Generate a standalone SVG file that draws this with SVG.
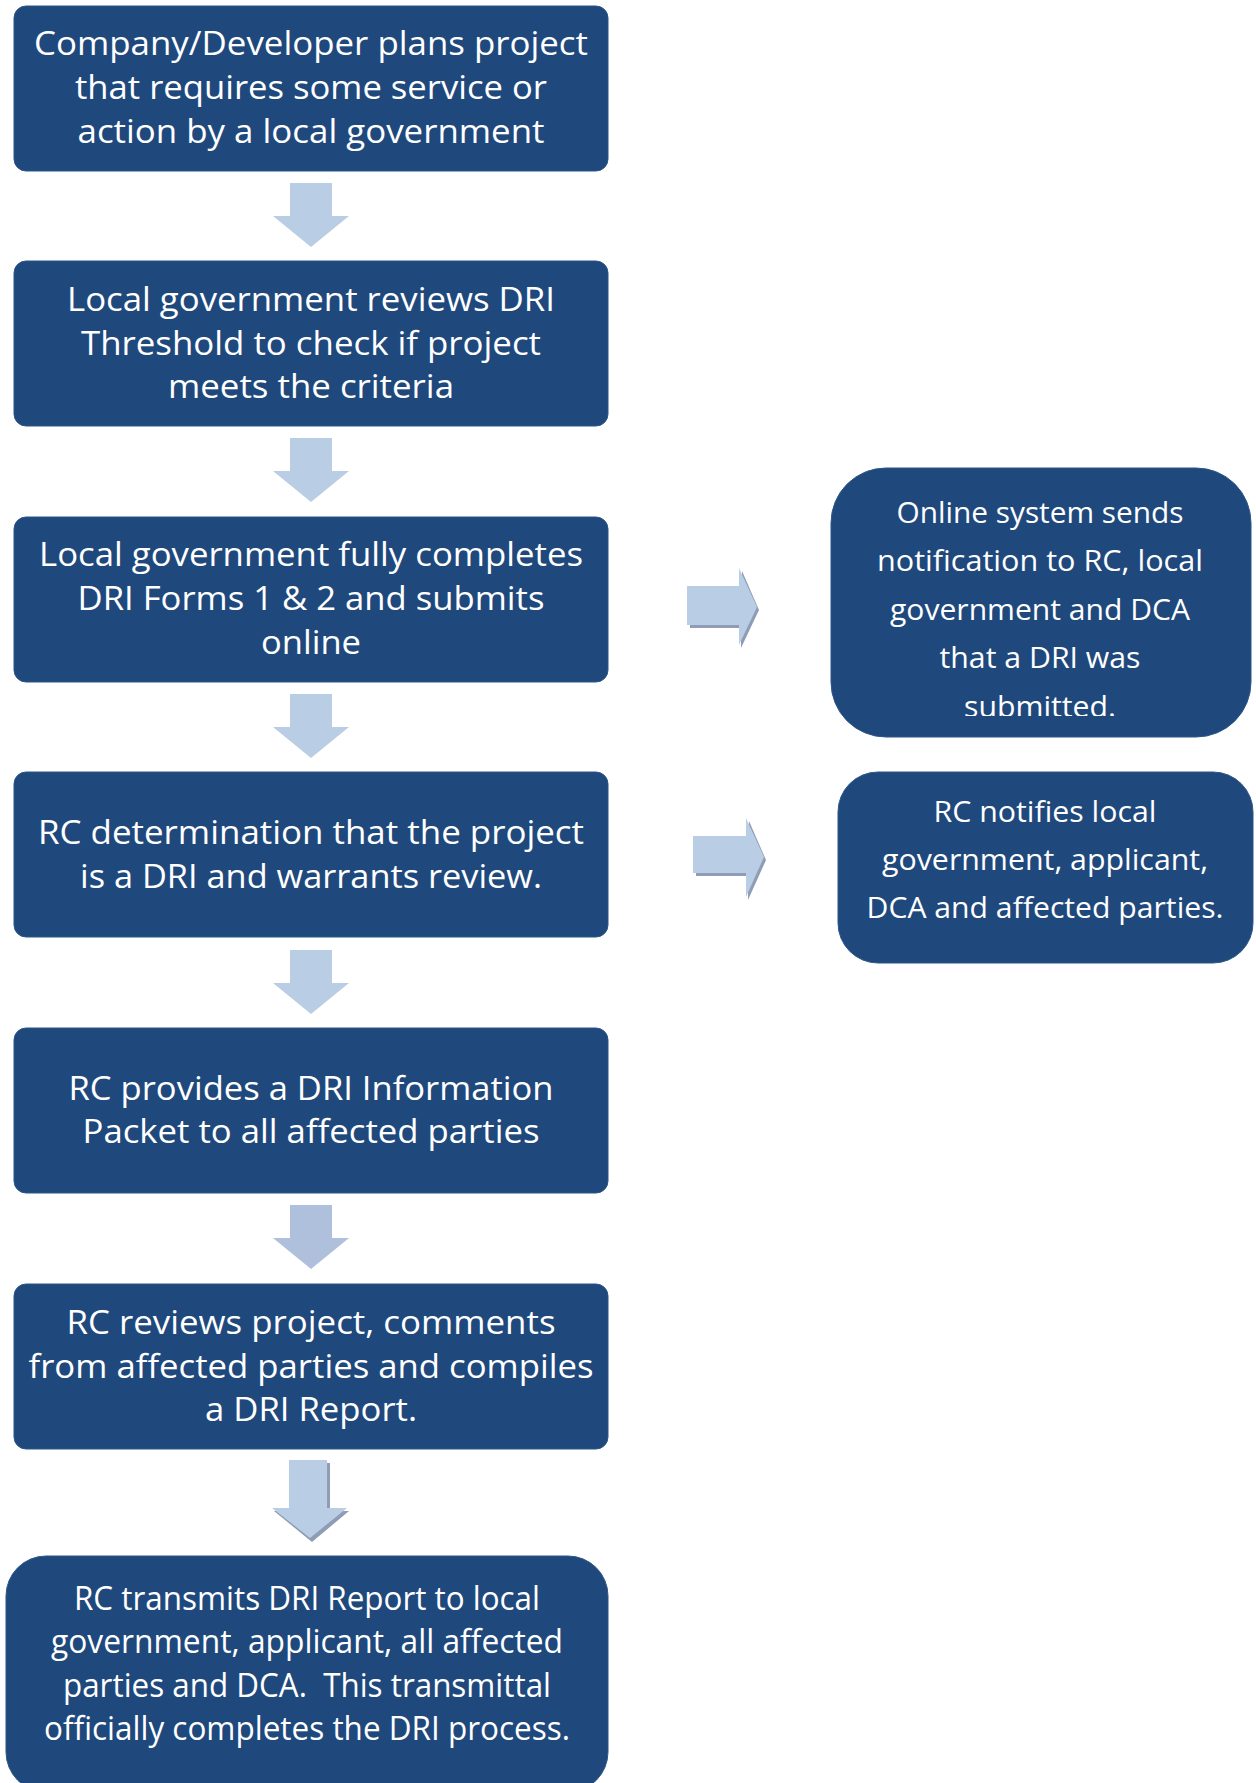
<svg xmlns="http://www.w3.org/2000/svg" xmlns:xlink="http://www.w3.org/1999/xlink" width="1256" height="1783" viewBox="0 0 1256 1783">
<style>
.box{fill:#1f497d;stroke:#2d5687;stroke-width:1}
.t{font-family:"Open Sans","Noto Sans","Liberation Sans",sans-serif;font-size:32.5px;fill:#ffffff;text-anchor:middle}
.r{font-size:29px}
.arr{fill:#b9cde5}
.shd{fill:#8e9cb5}
</style>
<defs>
<path id="down" d="M290,0 H332 V33 H349 L311,64 L273,33 H290 Z"/>
<clipPath id="clipR1"><rect x="831" y="468" width="420" height="248"/></clipPath>
</defs>
<g id="connectors">
<use xlink:href="#down" class="arr" y="183"/>
<use xlink:href="#down" class="arr" y="438"/>
<use xlink:href="#down" class="arr" y="694"/>
<use xlink:href="#down" class="arr" y="950"/>
<use xlink:href="#down" fill="#afc0dd" y="1205"/>
<path class="shd" d="M292,1463 H330 V1511 H349 L312,1542 L274,1511 H292 Z"/>
<path class="arr" d="M289,1460 H327 V1508 H347 L310,1538 L272,1508 H289 Z"/>
<path class="shd" d="M690,589 H742 V571 L759,610 L741,648 V628 H690 Z"/>
<path class="arr" d="M687,586 H739 V568 L757,607 L739,645 V625 H687 Z"/>
<path class="shd" d="M696,839 H749 V821 L766,860 L748,900 V876 H696 Z"/>
<path class="arr" d="M693,836 H746 V818 L764,857 L746,897 V873 H693 Z"/>
</g>
<g id="n1">
<rect class="box" x="14" y="6" width="594" height="165" rx="12"/>
<text class="t" x="311" y="55" textLength="554" lengthAdjust="spacingAndGlyphs">Company/Developer plans project</text>
<text class="t" x="311" y="99" textLength="472" lengthAdjust="spacingAndGlyphs">that requires some service or</text>
<text class="t" x="311" y="142.5" textLength="467" lengthAdjust="spacingAndGlyphs">action by a local government</text>
</g>
<g id="n2">
<rect class="box" x="14" y="261" width="594" height="165" rx="12"/>
<text class="t" x="311" y="311" textLength="488" lengthAdjust="spacingAndGlyphs">Local government reviews DRI</text>
<text class="t" x="311" y="354.5" textLength="460" lengthAdjust="spacingAndGlyphs">Threshold to check if project</text>
<text class="t" x="311" y="398" textLength="286" lengthAdjust="spacingAndGlyphs">meets the criteria</text>
</g>
<g id="n3">
<rect class="box" x="14" y="517" width="594" height="165" rx="12"/>
<text class="t" x="311" y="566" textLength="544" lengthAdjust="spacingAndGlyphs">Local government fully completes</text>
<text class="t" x="311" y="610" textLength="467" lengthAdjust="spacingAndGlyphs">DRI Forms 1 &amp; 2 and submits</text>
<text class="t" x="311" y="653.5" textLength="100" lengthAdjust="spacingAndGlyphs">online</text>
</g>
<g id="n4">
<rect class="box" x="14" y="772" width="594" height="165" rx="12"/>
<text class="t" x="311" y="844" textLength="546" lengthAdjust="spacingAndGlyphs">RC determination that the project</text>
<text class="t" x="311" y="887.5" textLength="462" lengthAdjust="spacingAndGlyphs">is a DRI and warrants review.</text>
</g>
<g id="n5">
<rect class="box" x="14" y="1028" width="594" height="165" rx="12"/>
<text class="t" x="311" y="1100" textLength="485" lengthAdjust="spacingAndGlyphs">RC provides a DRI Information</text>
<text class="t" x="311" y="1143" textLength="457" lengthAdjust="spacingAndGlyphs">Packet to all affected parties</text>
</g>
<g id="n6">
<rect class="box" x="14" y="1284" width="594" height="165" rx="12"/>
<text class="t" x="311" y="1334" textLength="489" lengthAdjust="spacingAndGlyphs">RC reviews project, comments</text>
<text class="t" x="311" y="1377.5" textLength="565" lengthAdjust="spacingAndGlyphs">from affected parties and compiles</text>
<text class="t" x="311" y="1421" textLength="212" lengthAdjust="spacingAndGlyphs">a DRI Report.</text>
</g>
<g id="n7">
<rect class="box" x="6" y="1556" width="602" height="236" rx="40"/>
<text class="t" x="307" y="1609.5" textLength="466" lengthAdjust="spacingAndGlyphs">RC transmits DRI Report to local</text>
<text class="t" x="307" y="1653" textLength="512" lengthAdjust="spacingAndGlyphs">government, applicant, all affected</text>
<text class="t" x="307" y="1696.5" textLength="488" lengthAdjust="spacingAndGlyphs">parties and DCA.&#160; This transmittal</text>
<text class="t" x="307" y="1740" textLength="526" lengthAdjust="spacingAndGlyphs">officially completes the DRI process.</text>
</g>
<g id="r1">
<rect class="box" x="831" y="468" width="420" height="269" rx="55"/>
<g clip-path="url(#clipR1)">
<text class="t r" x="1040" y="523" textLength="287" lengthAdjust="spacingAndGlyphs">Online system sends</text>
<text class="t r" x="1040" y="571" textLength="326" lengthAdjust="spacingAndGlyphs">notification to RC, local</text>
<text class="t r" x="1040" y="620" textLength="300" lengthAdjust="spacingAndGlyphs">government and DCA</text>
<text class="t r" x="1040" y="668" textLength="201" lengthAdjust="spacingAndGlyphs">that a DRI was</text>
<text class="t r" x="1040" y="717" textLength="152" lengthAdjust="spacingAndGlyphs">submitted.</text>
</g>
</g>
<g id="r2">
<rect class="box" x="838" y="772" width="415" height="191" rx="40"/>
<text class="t r" x="1045" y="822" textLength="223" lengthAdjust="spacingAndGlyphs">RC notifies local</text>
<text class="t r" x="1045" y="870" textLength="326" lengthAdjust="spacingAndGlyphs">government, applicant,</text>
<text class="t r" x="1045" y="918" textLength="357" lengthAdjust="spacingAndGlyphs">DCA and affected parties.</text>
</g>
</svg>
